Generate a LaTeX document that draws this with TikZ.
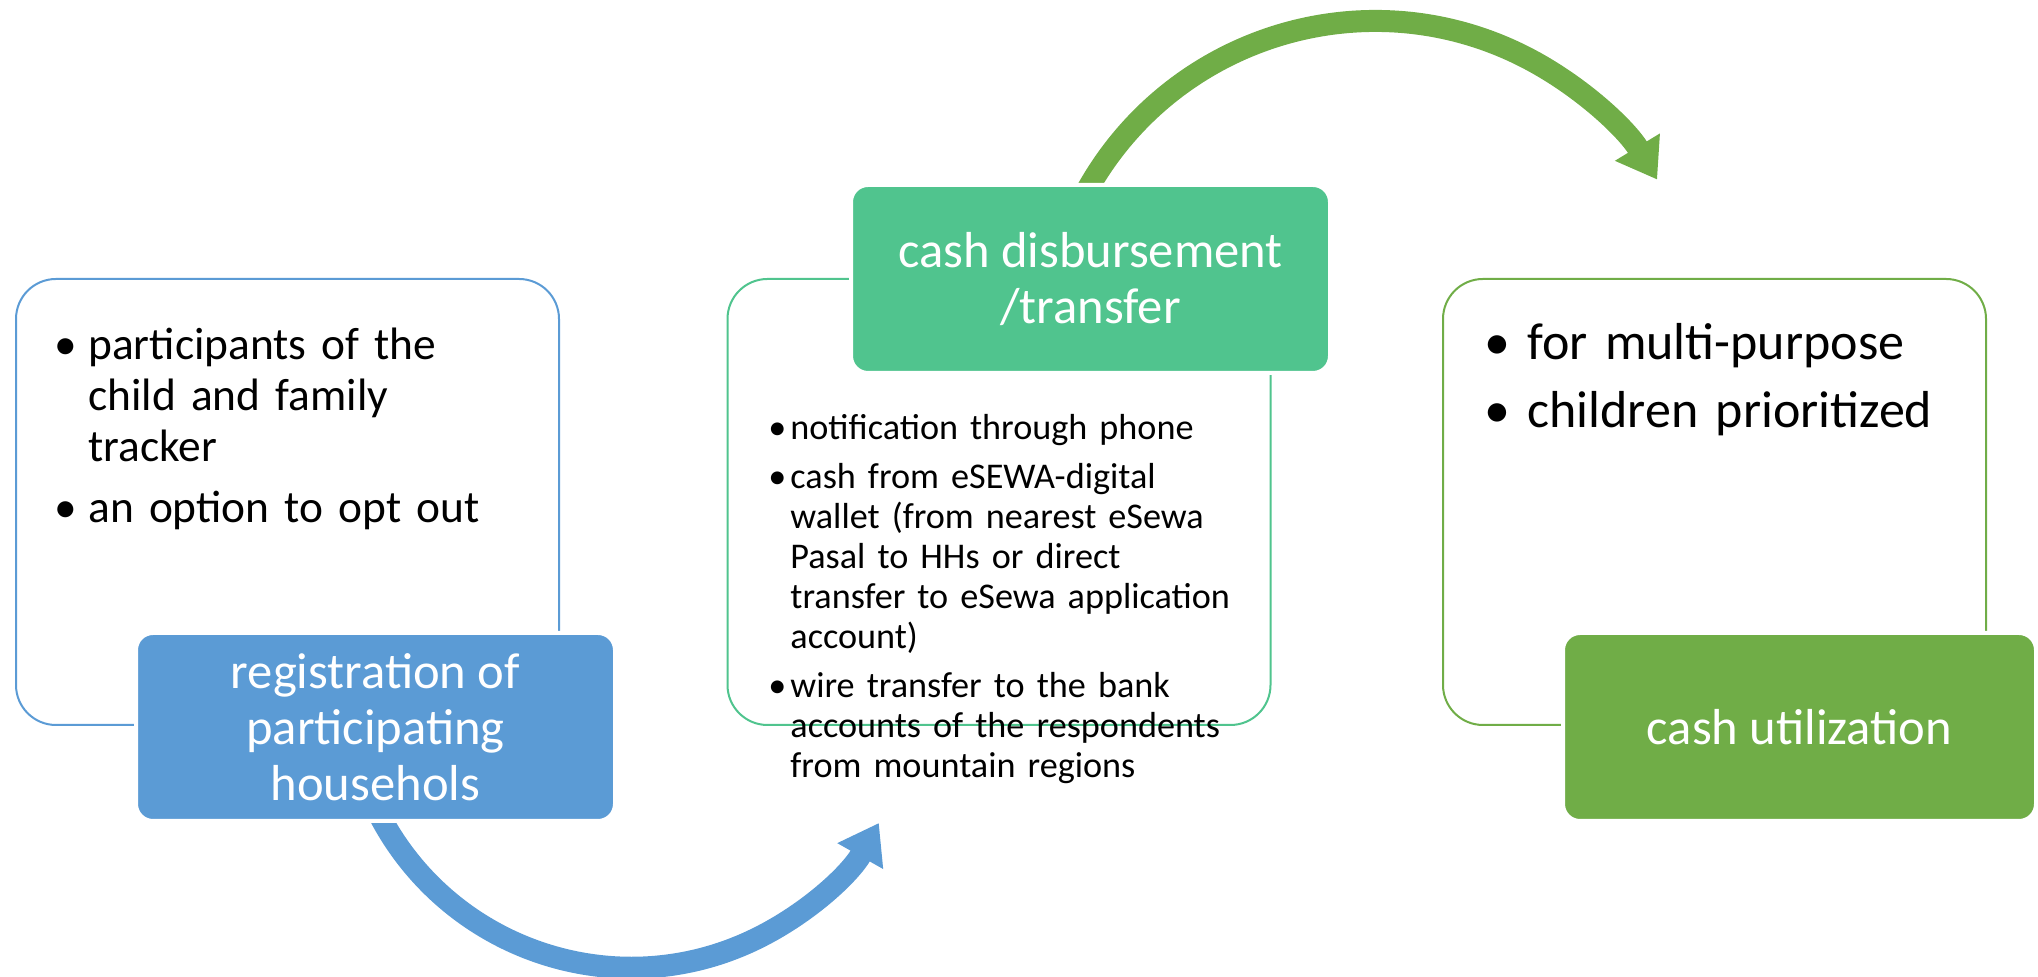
\documentclass[tikz,border=0pt]{standalone}
\usepackage{fontspec}
\setmainfont{Carlito}
\usetikzlibrary{arrows.meta}
\definecolor{cblue}{HTML}{5B9BD5}
\definecolor{cteal}{HTML}{50C48E}
\definecolor{cgreen}{HTML}{70AD47}
\newcommand{\bitem}[2]{\hangindent=#1\hangafter=1\noindent\makebox[#1][l]{\makebox[0pt]{\textbullet}}#2\par}
\begin{document}
\begin{tikzpicture}[x=0.5pt,y=0.5pt,
  outl/.style={draw=#1, line width=1pt, rounded corners=20pt, minimum width=271.5pt, minimum height=223pt, inner sep=0pt},
  lbl/.style={fill=#1, draw=white, line width=2pt, rounded corners=8.5pt, minimum height=94pt, inner sep=0pt,
     text=white, align=center, font=\fontsize{25.3pt}{28pt}\selectfont},
  listtxt/.style={anchor=base west, inner sep=0pt, text width=320pt},
  arr/.style={draw=#1, line width=11pt, -{Triangle[length=19pt,width=25pt]}}]
\useasboundingbox (0,0) rectangle (2038,977);
% arrows
\coordinate (bA) at (373.7,173.4);
\coordinate (gA) at (1083.8,780.9);
\draw[arr=cblue] (bA) arc[start angle=205, end angle=330.6, radius=142.1pt];
\draw[arr=cgreen] (gA) arc[start angle=152, end angle=31.3, radius=165pt];
% outline boxes
\node[outl=cblue] (o1) at (287.5,475) {};
\node[outl=cteal] (o2) at (999,475) {};
\node[outl=cgreen] (o3) at (1714.5,475) {};
% label boxes
\node[lbl=cblue, minimum width=239.5pt] (l1) at (375.5,250) {registration of\\participating\\househols};
\node[lbl=cteal, minimum width=239.5pt] (l2) at (1090.5,698) {cash disbursement\\/transfer};
\node[lbl=cgreen, minimum width=236.5pt] (l3) at (1799.5,250) {cash utilization};
% texts
\node[listtxt, font=\fontsize{22.7pt}{25.35pt}\selectfont] (t1) at (65,617) {%
\bitem{11.5pt}{participants of the\newline child and family\newline tracker}\vspace{5pt}%
\bitem{11.5pt}{an option to opt out}};
\node[listtxt, font=\fontsize{18.1pt}{20pt}\selectfont] (t2) at (777,537) {%
\bitem{6.5pt}{notification through phone}\vspace{4.5pt}%
\bitem{6.5pt}{cash from eSEWA-digital\newline wallet (from nearest eSewa\newline Pasal to HHs or direct\newline transfer to eSewa application\newline account)}\vspace{4.5pt}%
\bitem{6.5pt}{wire transfer to the bank\newline accounts of the respondents\newline from mountain regions}};
\node[listtxt, font=\fontsize{26pt}{28.8pt}\selectfont] (t3) at (1497,617) {%
\bitem{15pt}{for multi-purpose}\vspace{5pt}%
\bitem{15pt}{children prioritized}};
\end{tikzpicture}
\end{document}
